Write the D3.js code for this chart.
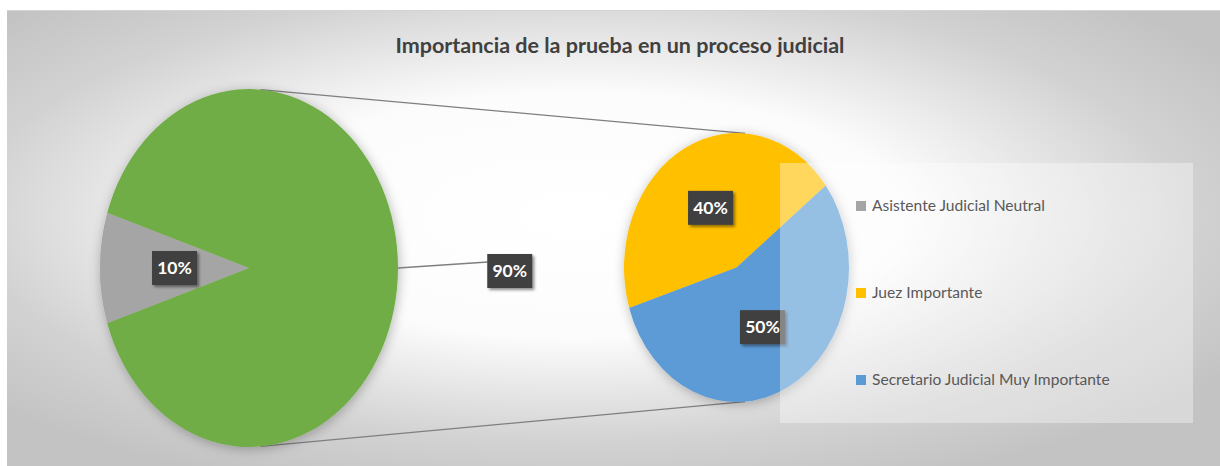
<!DOCTYPE html>
<html><head><meta charset="utf-8">
<script src="https://cdn.jsdelivr.net/npm/d3@7"></script>
<style>
html,body{margin:0;padding:0;background:#fff;}
svg{display:block;}
</style></head>
<body>
<svg id="chart" width="1220" height="466"></svg>
<script>
// ---- data ----
const mainCategories = ["Asistente Judicial Neutral", "Otro"];
const mainValues = [10, 90];
const subCategories = ["Juez Importante", "Secretario Judicial Muy Importante"];
const subValues = [40, 50];
const legendLabels = ["Asistente Judicial Neutral", "Juez Importante", "Secretario Judicial Muy Importante"];
const title = "Importancia de la prueba en un proceso judicial";

// ---- style ----
const colors = {
  "Asistente Judicial Neutral": "#a5a5a5",
  "Otro": "#70ad47",
  "Juez Importante": "#ffc000",
  "Secretario Judicial Muy Importante": "#5b9bd5"
};
const FONT = "Lato, 'Open Sans', sans-serif";
const deg = Math.PI / 180;

const svg = d3.select("#chart");
const defs = svg.append("defs");

// background gradient
const grad = defs.append("radialGradient").attr("id", "bg")
  .attr("cx", "47%").attr("cy", "45%").attr("r", "64%");
grad.append("stop").attr("offset", "0").attr("stop-color", "#ffffff");
grad.append("stop").attr("offset", "0.42").attr("stop-color", "#fcfcfc");
grad.append("stop").attr("offset", "0.78").attr("stop-color", "#d2d2d2");
grad.append("stop").attr("offset", "1").attr("stop-color", "#c3c3c3");

const sh = defs.append("filter").attr("id", "shadow")
  .attr("x", "-20%").attr("y", "-20%").attr("width", "140%").attr("height", "140%");
sh.append("feDropShadow").attr("dx", 1).attr("dy", 2).attr("stdDeviation", 6)
  .attr("flood-color", "#000").attr("flood-opacity", 0.28);

const lsh = defs.append("filter").attr("id", "lshadow")
  .attr("x", "-30%").attr("y", "-30%").attr("width", "160%").attr("height", "160%");
lsh.append("feDropShadow").attr("dx", 2).attr("dy", 2).attr("stdDeviation", 1.5)
  .attr("flood-color", "#000").attr("flood-opacity", 0.45);

svg.append("rect").attr("x", 7).attr("y", 10).attr("width", 1213).attr("height", 456)
  .attr("fill", "url(#bg)");
svg.append("line").attr("x1", 7).attr("x2", 1220).attr("y1", 10.5).attr("y2", 10.5)
  .attr("stroke", "#d4d4d4").attr("stroke-width", 1);

// title
svg.append("text").attr("x", 620).attr("y", 53).attr("text-anchor", "middle")
  .attr("font-family", FONT).attr("font-weight", "bold").attr("font-size", 21.5)
  .attr("fill", "#404040").text(title);

// ---- geometry ----
const big = { cx: 249, cy: 268, rx: 149, ry: 179 };
const small = { cx: 736.5, cy: 267.5, rx: 112.5, ry: 134.5 };

const mainData = mainCategories.map((c, i) => ({ cat: c, value: mainValues[i] }));
const subData = subCategories.map((c, i) => ({ cat: c, value: subValues[i] }));
const total = d3.sum(mainValues);

const pieMain = d3.pie().value(d => d.value).sort(null).startAngle(252 * deg).endAngle(612 * deg);
const pieSub = d3.pie().value(d => d.value).sort(null).startAngle(252.5 * deg).endAngle(612.5 * deg);

function pt(g, a, r) { return [g.cx + g.rx * r * Math.sin(a), g.cy - g.ry * r * Math.cos(a)]; }

// connector lines
const connAngle = 4.4 * deg;
const conn = [
  [pt(big, connAngle, 1), pt(small, connAngle, 1)],
  [pt(big, Math.PI - connAngle, 1), pt(small, Math.PI - connAngle, 1)]
];
svg.selectAll("line.conn").data(conn).join("line").attr("class", "conn")
  .attr("x1", d => d[0][0]).attr("y1", d => d[0][1])
  .attr("x2", d => d[1][0]).attr("y2", d => d[1][1])
  .attr("stroke", "#7f7f7f").attr("stroke-width", 1.3);

function drawPie(g, arcs) {
  const grp = svg.append("g").attr("filter", "url(#shadow)")
    .append("g")
    .attr("transform", `translate(${g.cx},${g.cy}) scale(1,${g.ry / g.rx})`);
  const arc = d3.arc().innerRadius(0).outerRadius(g.rx);
  grp.selectAll("path").data(arcs).join("path")
    .attr("d", arc).attr("fill", d => colors[d.data.cat]);
}
const mainArcs = pieMain(mainData);
const subArcs = pieSub(subData);
drawPie(big, mainArcs);
drawPie(small, subArcs);

// labels
function label(x, y, txt) {
  const w = 45, h = 34;
  const g = svg.append("g");
  g.append("rect").attr("x", x - w / 2).attr("y", y - h / 2).attr("width", w).attr("height", h)
    .attr("fill", "#404040").attr("filter", "url(#lshadow)");
  g.append("text").attr("x", x).attr("y", y).attr("dy", "0.36em").attr("text-anchor", "middle")
    .attr("font-family", FONT).attr("font-weight", "bold").attr("font-size", 17.5)
    .attr("fill", "#ffffff").text(txt);
}
const fmt = v => Math.round(v / total * 100) + "%";

mainArcs.forEach(a => {
  const mid = (a.startAngle + a.endAngle) / 2;
  if (a.data.cat === "Otro") {
    const p0 = pt(big, mid, 1);
    const p1 = pt(big, mid, 1.75);
    svg.append("line").attr("x1", p0[0]).attr("y1", p0[1]).attr("x2", p1[0] - 22).attr("y2", p0[1] - 6)
      .attr("stroke", "#7f7f7f").attr("stroke-width", 1.3);
    label(p1[0], p1[1] + 3, fmt(a.data.value));
  } else {
    const p = pt(big, mid, 0.5);
    label(p[0], p[1], fmt(a.data.value));
  }
});
subArcs.forEach(a => {
  const mid = (a.startAngle + a.endAngle) / 2;
  const p = pt(small, mid, 0.5);
  label(p[0], p[1], fmt(a.data.value));
});

// legend
svg.append("rect").attr("x", 780).attr("y", 163).attr("width", 413).attr("height", 260)
  .attr("fill", "#ffffff").attr("fill-opacity", 0.36);
const ly = d3.scalePoint().domain(legendLabels).range([206, 380]);
const lg = svg.selectAll("g.leg").data(legendLabels).join("g").attr("class", "leg")
  .attr("transform", d => `translate(856,${ly(d)})`);
lg.append("rect").attr("x", 0).attr("y", -5).attr("width", 10).attr("height", 10)
  .attr("fill", d => colors[d]);
lg.append("text").attr("x", 16).attr("y", 0).attr("dy", "0.35em")
  .attr("font-family", FONT).attr("font-size", 15.6).attr("fill", "#595959").text(d => d);
</script>
</body></html>
